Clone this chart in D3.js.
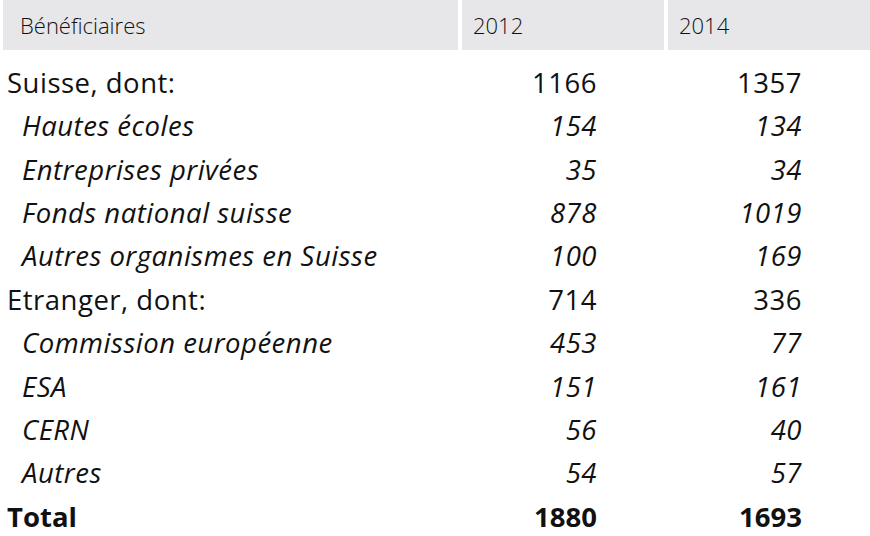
<!DOCTYPE html>
<html>
<head>
<meta charset="utf-8">
<script src="https://cdn.jsdelivr.net/npm/d3@7"></script>
<style>
  body { margin: 0; background: #fff; }
  svg text { font-family: "Open Sans", "Lato", sans-serif; fill: #111; }
</style>
</head>
<body>
<svg id="chart" width="870" height="536"></svg>
<script>
// table content
const headers = ['Bénéficiaires', '2012', '2014'];
const labels = ['Suisse, dont:', 'Hautes écoles', 'Entreprises privées', 'Fonds national suisse',
  'Autres organismes en Suisse', 'Etranger, dont:', 'Commission européenne', 'ESA', 'CERN', 'Autres', 'Total'];
const rowKind = ['group', 'sub', 'sub', 'sub', 'sub', 'group', 'sub', 'sub', 'sub', 'sub', 'total'];
const values2012 = [1166, 154, 35, 878, 100, 714, 453, 151, 56, 54, 1880];
const values2014 = [1357, 134, 34, 1019, 169, 336, 77, 161, 40, 57, 1693];

const svg = d3.select('#chart');

// header bands
const bands = [[3, 458], [462, 664], [668, 870]];
svg.selectAll('rect.head')
  .data(bands)
  .enter()
  .append('rect')
  .attr('class', 'head')
  .attr('x', d => d[0])
  .attr('y', 0)
  .attr('width', d => d[1] - d[0])
  .attr('height', 50)
  .attr('fill', '#e7e7e9');

const headX = [20, 473, 679];
svg.selectAll('text.head')
  .data(headers)
  .enter()
  .append('text')
  .attr('class', 'head')
  .attr('x', (d, i) => headX[i])
  .attr('y', 34)
  .attr('font-size', 22)
  .attr('font-weight', 300)
  .text(d => d);

// rows
const y = d3.scaleBand().domain(d3.range(labels.length)).range([64, 541]);
const baseline = i => y(i) + 29;

function styleRow(sel) {
  sel.attr('font-size', 27.5)
    .attr('font-style', (d, i) => rowKind[i] === 'sub' ? 'italic' : 'normal')
    .attr('font-weight', (d, i) => rowKind[i] === 'total' ? 700 : 400)
    .attr('letter-spacing', (d, i) => rowKind[i] === 'total' ? 0 : 0.5);
}

svg.selectAll('text.label')
  .data(labels)
  .enter()
  .append('text')
  .attr('class', 'label')
  .attr('x', (d, i) => rowKind[i] === 'sub' ? 22 : 7)
  .attr('y', (d, i) => baseline(i))
  .text(d => d)
  .call(styleRow);

[[values2012, 597], [values2014, 802]].forEach(([vals, xr]) => {
  svg.selectAll(null)
    .data(vals)
    .enter()
    .append('text')
    .attr('x', xr)
    .attr('y', (d, i) => baseline(i))
    .attr('text-anchor', 'end')
    .text(d => d)
    .call(styleRow);
});
</script>
</body>
</html>
